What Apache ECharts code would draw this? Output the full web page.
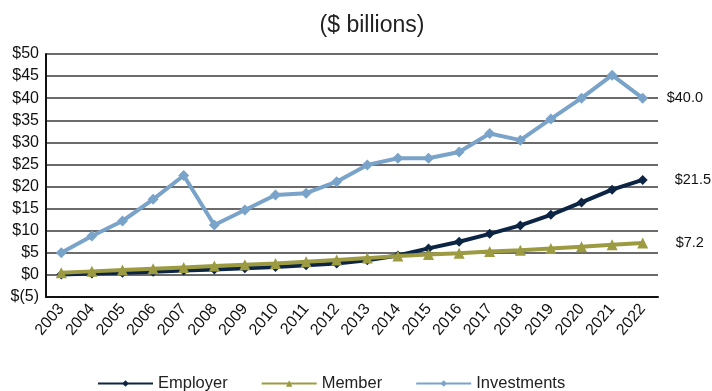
<!DOCTYPE html>
<html>
<head>
<meta charset="utf-8">
<script src="https://cdn.jsdelivr.net/npm/echarts@6/dist/echarts.min.js"></script>
<style>
  html, body { margin: 0; padding: 0; background: #ffffff; }
  #chart { width: 712px; height: 391px; }
</style>
</head>
<body>
<div id="chart"></div>
<script>
// Pension fund income sources, $ billions per year
const years = ['2003','2004','2005','2006','2007','2008','2009','2010','2011','2012',
               '2013','2014','2015','2016','2017','2018','2019','2020','2021','2022'];
const employer = [0.1, 0.3, 0.5, 0.7, 1.0, 1.2, 1.5, 1.8, 2.2, 2.6,
                  3.3, 4.4, 6.0, 7.5, 9.3, 11.2, 13.6, 16.4, 19.3, 21.5];
const member = [0.5, 0.8, 1.1, 1.4, 1.7, 2.0, 2.3, 2.6, 3.0, 3.4,
                3.8, 4.3, 4.6, 4.9, 5.3, 5.6, 6.0, 6.4, 6.8, 7.2];
const investments = [5.0, 8.8, 12.2, 17.1, 22.5, 11.3, 14.7, 18.1, 18.5, 21.1,
                     24.9, 26.4, 26.4, 27.8, 32.0, 30.5, 35.3, 40.0, 45.2, 40.0];

const FONT = '"Liberation Sans", Arial, sans-serif';
const COL_EMPLOYER = '#0c2545';
const COL_MEMBER = '#9c9b42';
const COL_INVEST = '#7aa3c9';

function money(v) {
  return v < 0 ? '$(' + (-v) + ')' : '$' + v;
}

function endLabel(distance) {
  return {
    show: true,
    distance: distance,
    color: '#111',
    fontFamily: FONT,
    fontSize: 14.5,
    formatter: p => '$' + Number(p.value).toFixed(1)
  };
}

const chart = echarts.init(document.getElementById('chart'), null, { renderer: 'canvas' });

chart.setOption({
  animation: false,
  backgroundColor: '#ffffff',
  title: {
    text: '($ billions)',
    left: 367,
    top: 9,
    textAlign: 'center',
    textStyle: { fontFamily: FONT, fontSize: 23, fontWeight: 'normal', color: '#222' }
  },
  grid: { left: 46, right: 54, top: 54, bottom: 94 },
  legend: {
    left: 92,
    top: 370,
    itemWidth: 55,
    itemHeight: 8,
    itemGap: 33,
    textStyle: { fontFamily: FONT, fontSize: 16.5, color: '#222' },
    data: ['Employer', 'Member', 'Investments']
  },
  xAxis: {
    type: 'category',
    data: years,
    boundaryGap: true,
    axisLine: { onZero: false, lineStyle: { color: '#111', width: 2 } },
    axisTick: { show: false },
    axisLabel: {
      rotate: 50,
      margin: 9,
      interval: 0,
      color: '#111',
      fontFamily: FONT,
      fontSize: 16
    }
  },
  yAxis: {
    type: 'value',
    min: -5,
    max: 50,
    interval: 5,
    axisLine: { show: true, lineStyle: { color: '#111', width: 2 } },
    axisTick: { show: false },
    axisLabel: {
      margin: 7,
      color: '#111',
      fontFamily: FONT,
      fontSize: 16,
      formatter: money
    },
    splitLine: { show: true, lineStyle: { color: '#3a3a3a', width: 1.5 } }
  },
  series: [
    {
      name: 'Employer',
      type: 'line',
      data: employer,
      symbol: 'diamond',
      symbolSize: 10,
      lineStyle: { color: COL_EMPLOYER, width: 4 },
      itemStyle: { color: COL_EMPLOYER },
      endLabel: endLabel(32),
      z: 2
    },
    {
      name: 'Member',
      type: 'line',
      data: member,
      symbol: 'triangle',
      symbolSize: 11,
      lineStyle: { color: COL_MEMBER, width: 4 },
      itemStyle: { color: COL_MEMBER },
      endLabel: endLabel(33),
      z: 3
    },
    {
      name: 'Investments',
      type: 'line',
      data: investments,
      symbol: 'diamond',
      symbolSize: 11,
      lineStyle: { color: COL_INVEST, width: 4 },
      itemStyle: { color: COL_INVEST },
      endLabel: endLabel(24),
      z: 4
    }
  ]
});
</script>
</body>
</html>
